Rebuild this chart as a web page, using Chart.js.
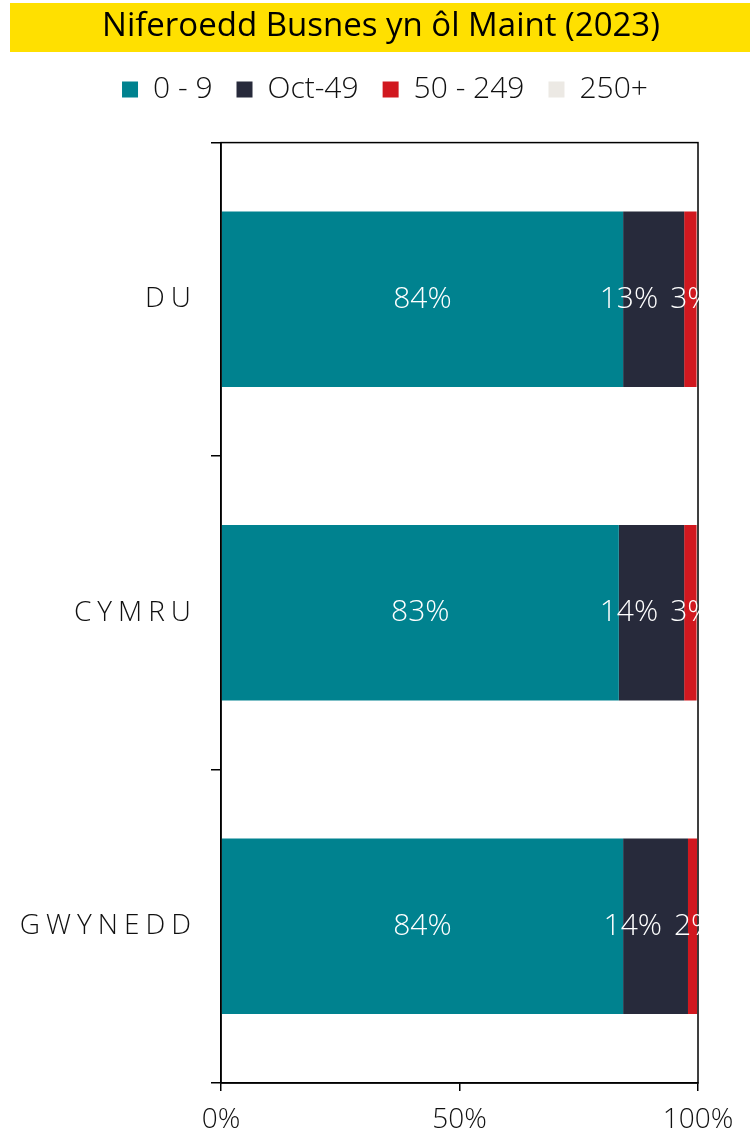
<!DOCTYPE html>
<html>
<head>
<meta charset="utf-8">
<script src="https://cdn.jsdelivr.net/npm/chart.js@4"></script>
<style>
  html, body { margin: 0; padding: 0; background: #fff; }
  #wrap { width: 752px; height: 1134px; }
</style>
</head>
<body>
<div id="wrap"><canvas id="sizeChart"></canvas></div>
<script>
// Chart data
const categories = ['DU', 'CYMRU', 'GWYNEDD'];
const seriesNames = ['0 - 9', 'Oct-49', '50 - 249', '250+'];
const micro = [84.3, 83.4, 84.3];
const small = [12.8, 13.7, 13.6];
const medium = [2.6, 2.6, 1.9];
const large = [0.3, 0.3, 0.2];
const xTicks = [0, 50, 100];

const colours = ['#00828f', '#272a3b', '#d1181f', '#ece9e4'];
const FONT = '"Open Sans"';

// Yellow banner behind the title, and centre title/legend on the whole page
const bannerPlugin = {
    id: 'banner',
    afterLayout(chart) {
        chart.titleBlock.left = 10;
        chart.titleBlock.right = 752;
        chart.legend.left = 18;
        chart.legend.right = 752;
    },
    beforeDraw(chart) {
        const ctx = chart.ctx;
        ctx.save();
        ctx.fillStyle = '#ffe000';
        ctx.fillRect(10, 3, 740, 49);
        ctx.restore();
    }
};

// Box round the plot area
const framePlugin = {
    id: 'frame',
    afterDatasetsDraw(chart) {
        const {ctx, chartArea: a} = chart;
        ctx.save();
        ctx.strokeStyle = '#000';
        ctx.lineWidth = 1.5;
        ctx.strokeRect(a.left, a.top, a.right - a.left, a.bottom - a.top);
        ctx.restore();
    }
};

// Category names with letter spacing
const categoryLabels = {
    id: 'categoryLabels',
    afterDraw(chart) {
        const ctx = chart.ctx;
        const y = chart.scales.y;
        ctx.save();
        ctx.font = '300 28px ' + FONT;
        ctx.fillStyle = '#111';
        ctx.textAlign = 'right';
        ctx.textBaseline = 'middle';
        ctx.letterSpacing = '6px';
        categories.forEach((c, i) => {
            ctx.fillText(c, y.left + 197, y.getPixelForValue(i));
        });
        ctx.restore();
    }
};

// Percentage labels inside the bars
const valueLabels = {
    id: 'valueLabels',
    afterDatasetsDraw(chart) {
        const ctx = chart.ctx;
        const a = chart.chartArea;
        ctx.save();
        ctx.beginPath();
        ctx.rect(a.left, a.top, a.right - a.left + 2, a.bottom - a.top);
        ctx.clip();
        ctx.font = '300 30px ' + FONT;
        ctx.fillStyle = '#fff';
        ctx.textBaseline = 'middle';
        categories.forEach((c, i) => {
            const e0 = chart.getDatasetMeta(0).data[i];
            const e1 = chart.getDatasetMeta(1).data[i];
            const e2 = chart.getDatasetMeta(2).data[i];
            const v = k => Math.round(chart.data.datasets[k].data[i]) + '%';
            ctx.textAlign = 'center';
            ctx.fillText(v(0), (e0.base + e0.x) / 2, e0.y);
            const redStart = e2.base - 14;
            ctx.textAlign = 'left';
            ctx.fillText(v(2), redStart, e2.y);
            ctx.textAlign = 'right';
            ctx.fillText(v(1), redStart - 12, e1.y);
        });
        ctx.restore();
    }
};

const seriesData = [micro, small, medium, large];

new Chart(document.getElementById('sizeChart'), {
    type: 'bar',
    data: {
        labels: categories,
        datasets: seriesNames.map((name, k) => ({
            label: name,
            data: seriesData[k],
            backgroundColor: colours[k],
            borderWidth: 0,
            barPercentage: 0.56,
            categoryPercentage: 1
        }))
    },
    options: {
        indexAxis: 'y',
        responsive: true,
        maintainAspectRatio: false,
        animation: false,
        layout: { padding: { left: 0, right: 54, top: 0, bottom: 0 } },
        plugins: {
            title: {
                display: true,
                text: 'Niferoedd Busnes yn ôl Maint (2023)',
                color: '#000',
                font: { family: FONT, size: 33, weight: 'normal' },
                padding: { top: 7, bottom: 4 }
            },
            subtitle: {
                // empty spacer between legend and plot
                display: true,
                text: '',
                weight: 500,
                font: { size: 10 },
                padding: { top: 8, bottom: 8 }
            },
            legend: {
                position: 'top',
                labels: {
                    boxWidth: 16,
                    boxHeight: 16,
                    padding: 24,
                    color: '#111',
                    font: { family: FONT, size: 30, weight: 300 }
                }
            },
            tooltip: { enabled: false }
        },
        scales: {
            x: {
                stacked: true,
                min: 0,
                max: 100,
                afterBuildTicks(scale) {
                    scale.ticks = xTicks.map(v => ({ value: v }));
                },
                afterFit(scale) { scale.height = 51; },
                border: { display: true, color: '#000', width: 1.5 },
                grid: { drawOnChartArea: false, color: '#000', tickLength: 8, lineWidth: 1.5 },
                ticks: {
                    color: '#111',
                    padding: 12,
                    maxRotation: 0,
                    font: { family: FONT, size: 28, weight: 300 },
                    callback: v => v + '%'
                }
            },
            y: {
                stacked: true,
                afterFit(scale) { scale.width = 221; },
                border: { display: true, color: '#000', width: 1.5 },
                grid: { drawOnChartArea: false, color: '#000', tickLength: 10, lineWidth: 1.5 },
                ticks: { display: false }
            }
        }
    },
    plugins: [bannerPlugin, framePlugin, valueLabels, categoryLabels]
});
</script>
</body>
</html>
